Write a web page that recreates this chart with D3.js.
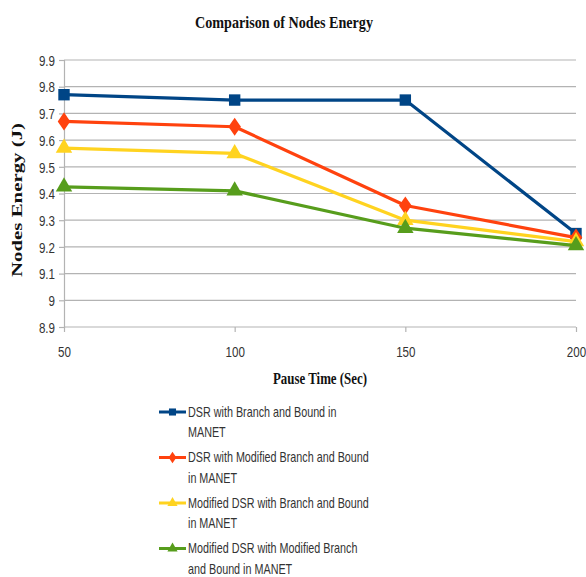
<!DOCTYPE html>
<html>
<head>
<meta charset="utf-8">
<script src="https://cdn.jsdelivr.net/npm/d3@7"></script>
<style>
  html, body { margin: 0; padding: 0; background: #fff; }
  svg { display: block; }
</style>
</head>
<body>
<svg id="chart" width="586" height="577"></svg>
<script>
// Pause time categories (x axis)
const pauseTimes = [50, 100, 150, 200];
// Y axis ticks
const yTicks = [8.9, 9, 9.1, 9.2, 9.3, 9.4, 9.5, 9.6, 9.7, 9.8, 9.9];
const yTickLabels = ["8.9", "9", "9.1", "9.2", "9.3", "9.4", "9.5", "9.6", "9.7", "9.8", "9.9"];

// Series values: nodes energy (J)
const dsrBB = [9.77, 9.75, 9.75, 9.25];
const dsrModBB = [9.67, 9.65, 9.355, 9.235];
const modDsrBB = [9.57, 9.55, 9.30, 9.22];
const modDsrModBB = [9.425, 9.41, 9.27, 9.205];

const seriesNames = [
  ["DSR with Branch and Bound in", "MANET"],
  ["DSR with Modified Branch and Bound", "in MANET"],
  ["Modified DSR with Branch and Bound", "in MANET"],
  ["Modified DSR with Modified Branch", "and Bound in MANET"]
];
const seriesColors = ["#004586", "#ff420e", "#ffd320", "#579d1c"];
const seriesShapes = ["square", "diamond", "triangle", "triangle"];
const seriesValues = [dsrBB, dsrModBB, modDsrBB, modDsrModBB];

const svg = d3.select("#chart");

const x = d3.scaleLinear().domain([50, 200]).range([64, 576]);
const y = d3.scaleLinear().domain([8.9, 9.9]).range([327, 60]);

const narrow = 0.8; // horizontal squeeze for the condensed sans labels

// Title
svg.append("text")
  .attr("x", 284).attr("y", 28)
  .attr("text-anchor", "middle")
  .attr("font-family", "Liberation Serif")
  .attr("font-weight", "bold")
  .attr("font-size", 17)
  .attr("textLength", 178).attr("lengthAdjust", "spacingAndGlyphs")
  .attr("fill", "#111")
  .text("Comparison of Nodes Energy");

// Horizontal grid lines
svg.append("g")
  .selectAll("line")
  .data(yTicks)
  .join("line")
  .attr("x1", 64).attr("x2", 576)
  .attr("y1", d => y(d)).attr("y2", d => y(d))
  .attr("stroke", "#b3b3b3").attr("stroke-width", 1.2);

// Y axis
const yAxis = d3.axisLeft(y)
  .tickValues(yTicks)
  .tickFormat((d, i) => yTickLabels[i])
  .tickSize(5)
  .tickPadding(3);
const gy = svg.append("g").attr("transform", "translate(64,0)").call(yAxis);
gy.select(".domain").attr("stroke", "#b3b3b3").attr("stroke-width", 1.2);
gy.selectAll(".tick line").attr("stroke", "#b3b3b3").attr("stroke-width", 1.2);
gy.selectAll("text")
  .attr("font-family", "Liberation Sans")
  .attr("font-size", 14.5)
  .attr("fill", "#333")
  .attr("dy", "0.36em")
  .attr("transform", `scale(${narrow},1)`)
  .attr("x", -9 / narrow);

// X axis
const xAxis = d3.axisBottom(x)
  .tickValues(pauseTimes)
  .tickFormat(d3.format("d"))
  .tickSize(5)
  .tickPadding(15);
const gx = svg.append("g").attr("transform", `translate(0,${y(8.9)})`).call(xAxis);
gx.select(".domain").remove();
gx.selectAll(".tick line").attr("stroke", "#b3b3b3").attr("stroke-width", 1.2);
gx.selectAll("text")
  .attr("font-family", "Liberation Sans")
  .attr("font-size", 14.5)
  .attr("fill", "#333")
  .attr("transform", `scale(${narrow},1)`);

// Axis titles
svg.append("text")
  .attr("transform", "translate(22,200) rotate(-90)")
  .attr("text-anchor", "middle")
  .attr("font-family", "Liberation Serif")
  .attr("font-weight", "bold")
  .attr("font-size", 15)
  .attr("textLength", 154).attr("lengthAdjust", "spacingAndGlyphs")
  .attr("fill", "#111")
  .text("Nodes Energy (J)");

svg.append("text")
  .attr("x", 320).attr("y", 384)
  .attr("text-anchor", "middle")
  .attr("font-family", "Liberation Serif")
  .attr("font-weight", "bold")
  .attr("font-size", 17)
  .attr("textLength", 94).attr("lengthAdjust", "spacingAndGlyphs")
  .attr("fill", "#111")
  .text("Pause Time (Sec)");

// Marker symbol generator
function markerPath(shape, size) {
  if (shape === "square") return d3.symbol(d3.symbolSquare, size)();
  if (shape === "diamond") {
    const h = Math.sqrt(size) * 0.8, w = Math.sqrt(size) * 0.55;
    return `M0,${-h}L${w},0L0,${h}L${-w},0Z`;
  }
  return d3.symbol(d3.symbolTriangle, size * 0.9)();
}

const line = d3.line().x((d, i) => x(pauseTimes[i])).y(d => y(d));

// Series lines and markers
seriesValues.forEach((vals, s) => {
  const g = svg.append("g");
  g.append("path")
    .datum(vals)
    .attr("d", line)
    .attr("fill", "none")
    .attr("stroke", seriesColors[s])
    .attr("stroke-width", 3.2)
    .attr("stroke-linejoin", "round");
  g.selectAll("path.marker")
    .data(vals)
    .join("path")
    .attr("class", "marker")
    .attr("transform", (d, i) => `translate(${x(pauseTimes[i])},${y(d)})`)
    .attr("d", markerPath(seriesShapes[s], 130))
    .attr("fill", seriesColors[s]);
});

// Legend
const legend = svg.append("g");
const legendTop = 412, legendStep = 45.5;
seriesNames.forEach((lines, s) => {
  const ly = legendTop + s * legendStep;
  legend.append("line")
    .attr("x1", 159).attr("x2", 186)
    .attr("y1", ly).attr("y2", ly)
    .attr("stroke", seriesColors[s]).attr("stroke-width", 3);
  legend.append("path")
    .attr("transform", `translate(172.5,${ly})`)
    .attr("d", markerPath(seriesShapes[s], 50))
    .attr("fill", seriesColors[s]);
  lines.forEach((t, k) => {
    legend.append("text")
      .attr("x", 188 / 0.77).attr("y", ly + 5 + k * 20.5)
      .attr("transform", "scale(0.77,1)")
      .attr("font-family", "Liberation Sans")
      .attr("font-size", 14)
      .attr("fill", "#333")
      .text(t);
  });
});
</script>
</body>
</html>
